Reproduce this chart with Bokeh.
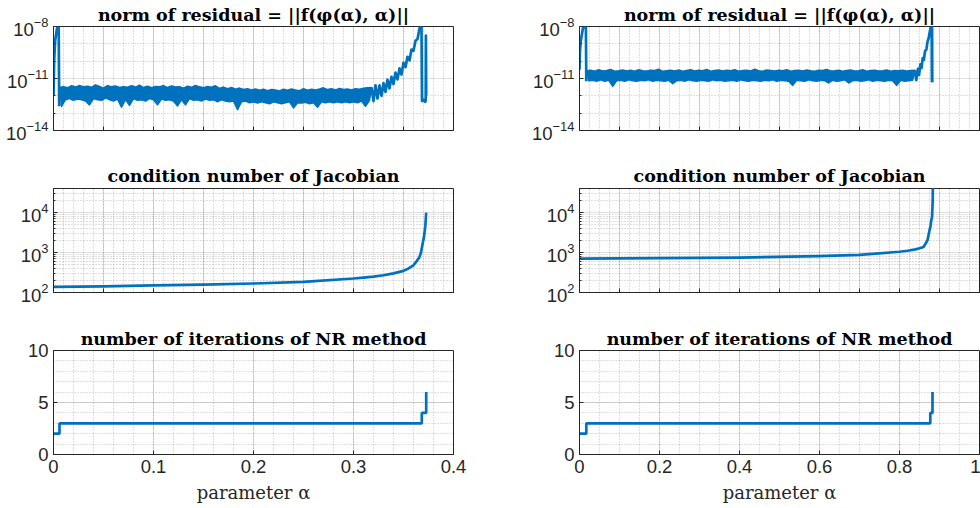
from bokeh.plotting import figure
from bokeh.layouts import column, row
from bokeh.models import Range1d, FixedTicker, SingleIntervalTicker, CustomJSTickFormatter
from bokeh.embed import file_html
from bokeh.resources import INLINE

# ---------------- data ----------------
# left column (alpha in [0, 0.4])
res_left_head_x = [0.0, 0.0007, 0.0017, 0.0034, 0.0044, 0.0052, 0.0057]
res_left_head_y = [1.0e-12, 1.2e-10, 1.6e-9, 7.4e-9, 1.0e-8, 9.0e-9, 2.5e-13]
# noisy band: upper envelope (x0=0.006, step 0.004) and lower envelope (x0=0.008, step 0.004)
res_left_upper = [
    3.0e-12, 3.4e-12, 2.9e-12, 3.8e-12, 3.2e-12, 4.0e-12, 3.3e-12, 3.6e-12, 3.1e-12, 4.3e-12,
    3.5e-12, 2.8e-12, 3.9e-12, 3.3e-12, 3.7e-12, 3.0e-12, 3.4e-12, 3.1e-12, 3.8e-12, 3.2e-12,
    4.1e-12, 3.0e-12, 3.6e-12, 2.9e-12, 3.5e-12, 3.3e-12, 3.9e-12, 3.0e-12, 3.7e-12, 3.2e-12,
    3.4e-12, 2.8e-12, 3.6e-12, 3.1e-12, 4.0e-12, 3.3e-12, 2.9e-12, 3.5e-12, 3.1e-12, 3.8e-12,
    2.7e-12, 3.2e-12, 2.6e-12, 3.0e-12, 2.4e-12, 2.8e-12, 2.3e-12, 2.6e-12, 2.2e-12, 2.5e-12,
    2.1e-12, 2.4e-12, 2.0e-12, 2.3e-12, 2.2e-12, 1.9e-12, 2.4e-12, 2.1e-12, 2.5e-12, 2.2e-12,
    2.0e-12, 2.6e-12, 2.1e-12, 2.4e-12, 2.2e-12, 2.5e-12, 2.9e-12, 2.3e-12, 2.6e-12, 2.2e-12,
    2.7e-12, 2.3e-12, 2.5e-12, 2.2e-12, 2.6e-12, 2.4e-12, 2.7e-12, 2.9e-12, 3.0e-12,
]
res_left_lower = [
    0.25e-12, 0.6e-12, 0.7e-12, 0.55e-12, 0.65e-12, 0.6e-12, 0.5e-12, 0.3e-12, 0.7e-12, 0.6e-12,
    0.55e-12, 0.75e-12, 0.6e-12, 0.5e-12, 0.65e-12, 0.22e-12, 0.6e-12, 0.28e-12, 0.7e-12, 0.55e-12,
    0.6e-12, 0.5e-12, 0.7e-12, 0.6e-12, 0.3e-12, 0.65e-12, 0.55e-12, 0.6e-12, 0.5e-12, 0.26e-12,
    0.6e-12, 0.3e-12, 0.7e-12, 0.55e-12, 0.6e-12, 0.5e-12, 0.65e-12, 0.55e-12, 0.6e-12, 0.45e-12,
    0.6e-12, 0.5e-12, 0.45e-12, 0.5e-12, 0.16e-12, 0.45e-12, 0.5e-12, 0.4e-12, 0.45e-12, 0.38e-12,
    0.45e-12, 0.4e-12, 0.35e-12, 0.45e-12, 0.4e-12, 0.35e-12, 0.4e-12, 0.45e-12, 0.2e-12, 0.4e-12,
    0.38e-12, 0.42e-12, 0.35e-12, 0.4e-12, 0.22e-12, 0.45e-12, 0.4e-12, 0.45e-12, 0.4e-12, 0.45e-12,
    0.4e-12, 0.45e-12, 0.4e-12, 0.45e-12, 0.4e-12, 0.5e-12, 0.25e-12, 0.55e-12,
]
res_left_band_start, res_left_band_step = 0.006, 0.004
res_left_tail_x = [0.318, 0.320, 0.322, 0.324, 0.326, 0.328, 0.330, 0.332, 0.334, 0.336, 0.338,
                   0.340, 0.342, 0.344, 0.346, 0.348, 0.350, 0.352, 0.354, 0.356, 0.358,
                   0.360, 0.362, 0.364, 0.366, 0.367, 0.368, 0.3685, 0.3700, 0.3715, 0.3722,
                   0.3724, 0.3727]
res_left_tail_y = [3.0e-12, 5e-13, 4e-12, 7e-13, 4e-12, 1.0e-12, 5.4e-12, 1.7e-12, 8.5e-12, 2.7e-12, 1.26e-11,
                   4.8e-12, 2.2e-11, 8.9e-12, 3.8e-11, 1.7e-11, 8e-11, 4.5e-11, 1.8e-10, 1.1e-10, 4.7e-10,
                   4e-10, 1.5e-9, 1.9e-9, 7.9e-9, 1.0e-8, 1.1e-8, 5e-13, 6e-13, 4.5e-13, 5e-13,
                   3e-9, 1e-12]

cond_left_x = [0.0, 0.05, 0.1, 0.15, 0.2, 0.25, 0.3, 0.31, 0.32, 0.33, 0.34, 0.35, 0.355, 0.36,
               0.363, 0.366, 0.3675, 0.3685, 0.3705, 0.3718, 0.3727]
cond_left_y = [138, 142, 150, 158, 168, 185, 224, 236, 250, 270, 300, 347, 400, 480,
               600, 776, 1000, 1380, 2500, 4500, 1.0e4]

iter_left_x = [0.0, 0.006, 0.3683, 0.3727]
iter_left_y = [2, 3, 4, 6]

# right column (alpha in [0, 1])
res_right_head_x = [0.0, 0.001, 0.0035, 0.0085, 0.0135, 0.016, 0.017]
res_right_head_y = [3.2e-11, 3.5e-10, 1.6e-9, 8e-9, 1.0e-8, 9e-9, 7e-12]
# noisy band: upper envelope (x0=0.018, step 0.01) and lower envelope (x0=0.023, step 0.01)
res_right_upper = [
    2.8e-11,
    3.0e-11, 2.6e-11, 3.2e-11, 2.7e-11, 2.9e-11, 3.3e-11, 2.6e-11, 2.8e-11, 3.1e-11, 2.7e-11,
    3.0e-11, 2.6e-11, 3.2e-11, 2.8e-11, 2.7e-11, 3.0e-11, 2.9e-11, 3.4e-11, 2.6e-11, 2.8e-11,
    3.0e-11, 2.7e-11, 3.1e-11, 2.6e-11, 2.9e-11, 3.2e-11, 2.7e-11, 3.0e-11, 2.8e-11, 3.3e-11,
    2.6e-11, 2.9e-11, 3.1e-11, 2.7e-11, 3.0e-11, 2.8e-11, 3.2e-11, 2.6e-11, 2.9e-11, 3.0e-11,
    2.7e-11, 3.4e-11, 2.8e-11, 2.6e-11, 3.1e-11, 2.9e-11, 2.7e-11, 3.0e-11, 2.8e-11, 3.2e-11,
    2.6e-11, 2.9e-11, 3.0e-11, 2.7e-11, 3.1e-11, 2.8e-11, 2.6e-11, 3.0e-11, 2.9e-11, 3.3e-11,
    2.7e-11, 2.8e-11, 3.0e-11, 2.6e-11, 2.9e-11, 3.1e-11, 2.7e-11, 2.8e-11, 3.2e-11, 2.6e-11,
    2.9e-11, 3.0e-11, 2.7e-11, 2.8e-11, 3.1e-11, 2.6e-11, 2.9e-11, 2.8e-11, 3.0e-11, 2.7e-11,
    2.9e-11, 3.0e-11,
]
res_right_lower = [
    0.75e-11, 0.8e-11, 0.7e-11, 0.85e-11, 0.7e-11, 0.8e-11, 0.35e-11, 0.75e-11, 0.8e-11, 0.7e-11,
    0.85e-11, 0.75e-11, 0.7e-11, 0.8e-11, 0.75e-11, 0.85e-11, 0.7e-11, 0.8e-11, 0.75e-11, 0.7e-11,
    0.8e-11, 0.5e-11, 0.75e-11, 0.8e-11, 0.7e-11, 0.85e-11, 0.75e-11, 0.7e-11, 0.8e-11, 0.75e-11,
    0.7e-11, 0.85e-11, 0.75e-11, 0.8e-11, 0.7e-11, 0.75e-11, 0.8e-11, 0.7e-11, 0.85e-11, 0.75e-11,
    0.7e-11, 0.8e-11, 0.75e-11, 0.7e-11, 0.8e-11, 0.75e-11, 0.85e-11, 0.7e-11, 0.8e-11, 0.75e-11,
    0.7e-11, 0.4e-11, 0.8e-11, 0.75e-11, 0.7e-11, 0.85e-11, 0.75e-11, 0.7e-11, 0.8e-11, 0.75e-11,
    0.55e-11, 0.8e-11, 0.7e-11, 0.75e-11, 0.85e-11, 0.55e-11, 0.75e-11, 0.8e-11, 0.7e-11, 0.75e-11,
    0.85e-11, 0.7e-11, 0.8e-11, 0.75e-11, 0.7e-11, 0.8e-11, 0.75e-11, 0.4e-11, 0.8e-11, 0.7e-11,
    0.75e-11, 0.8e-11,
]
res_right_band_start, res_right_band_step = 0.018, 0.01
res_right_tail_x = [0.838, 0.842, 0.846, 0.849, 0.852, 0.855, 0.858, 0.861, 0.864, 0.867, 0.870,
                    0.873, 0.876, 0.8785, 0.8805, 0.881, 0.8815, 0.882]
res_right_tail_y = [3.0e-11, 8e-12, 3.6e-11, 1.6e-11, 6.5e-11, 4e-11, 1.5e-10, 1.2e-10, 4e-10, 4.5e-10, 1.3e-9,
                    2.2e-9, 5.5e-9, 1.0e-8, 1.2e-8, 7e-12, 8e-9, 6e-12]

cond_right_x = [0.0, 0.2, 0.4, 0.6, 0.7, 0.8, 0.82, 0.84, 0.85, 0.86, 0.865, 0.87, 0.8725,
                0.875, 0.8775, 0.879, 0.8815, 0.883, 0.8835]
cond_right_y = [708, 728, 750, 810, 870, 1045, 1110, 1200, 1280, 1380, 1650, 2040, 2700,
                3600, 4500, 6000, 8000, 2e4, 5e4]

iter_right_x = [0.0, 0.017, 0.877, 0.8825]
iter_right_y = [2, 3, 4, 6]

titles = ["norm of residual = ||f(\u03c6(\u03b1), \u03b1)||",
          "condition number of Jacobian",
          "number of iterations of NR method"]
x_label = "parameter \u03b1"

# ---------------- style ----------------
BLUE = "#0072BD"
AX = "#262626"
TICK_FONT = "Liberation Sans"
SERIF = "DejaVu Serif"
LW = 2.7


def band_polygon(start, step, upper, lower):
    ux = [start + step * i for i in range(len(upper))]
    lx = [start + step / 2 + step * i for i in range(len(lower))]
    return ux + lx[::-1], upper + lower[::-1]


def make_fig(col, rowi, xmax, ytype, yrange, xticker, yticker, title, show_xlabels):
    borders_lr = [(53, 37), (89, 1)][col]
    borders_tb = [(26, 24), (34, 28), (30, 54)][rowi]
    p = figure(frame_width=400, frame_height=104,
               x_range=Range1d(0, xmax), y_range=Range1d(*yrange),
               y_axis_type=ytype, output_backend="svg", toolbar_location=None,
               min_border_left=borders_lr[0], min_border_right=borders_lr[1],
               min_border_top=borders_tb[0], min_border_bottom=borders_tb[1],
               background_fill_color="white", border_fill_color="white")
    p.title.text = title
    p.title.text_font = SERIF
    p.title.text_font_style = "bold"
    p.title.text_font_size = "17.5px"
    p.title.align = "center"
    p.title.text_color = "black"
    p.title.standoff = [3.5, 5, 2.5][rowi]
    p.xaxis.ticker = xticker
    p.xgrid.ticker = xticker
    p.yaxis.ticker = yticker
    p.ygrid.ticker = yticker
    for ax in list(p.xaxis) + list(p.yaxis):
        ax.axis_line_color = AX
        ax.major_tick_line_color = AX
        ax.minor_tick_line_color = AX
        ax.major_tick_in = 4
        ax.major_tick_out = 0
        ax.minor_tick_in = 0
        ax.minor_tick_out = 0
        ax.major_label_text_font = TICK_FONT
        ax.major_label_text_font_size = "18.5px"
        ax.major_label_text_color = AX
        ax.major_label_standoff = 5
    if ytype == "log":
        p.yaxis.minor_tick_in = 2
    if not show_xlabels:
        p.xaxis.formatter = CustomJSTickFormatter(code="return ''")
        p.xaxis.major_label_standoff = 0
        p.xaxis.major_label_text_font_size = "8px"
    else:
        p.xaxis.axis_label = x_label
        p.xaxis.axis_label_text_font = SERIF
        p.xaxis.axis_label_text_font_style = "normal"
        p.xaxis.axis_label_text_font_size = "18px"
        p.xaxis.axis_label_text_color = AX
        p.xaxis.axis_label_standoff = 6
    p.outline_line_color = AX
    p.outline_line_width = 1
    for g in (p.xgrid, p.ygrid):
        g.grid_line_color = AX
        g.grid_line_alpha = 0.15
        g.minor_grid_line_color = AX
        g.minor_grid_line_alpha = 0.3
        g.minor_grid_line_dash = "1 2"
    return p


res_ticks = FixedTicker(ticks=[1e-14, 1e-11, 1e-8], minor_ticks=[1e-13, 1e-12, 1e-10, 1e-9])
cond_minor = [m * 10 ** e for e in (2, 3) for m in range(2, 10)] + [2e4, 3e4, 4e4]
cond_ticks = FixedTicker(ticks=[1e2, 1e3, 1e4], minor_ticks=cond_minor)

figs = []
for col, xmax in enumerate([0.4, 1.0]):
    if col == 0:
        xt_top = SingleIntervalTicker(interval=0.05, num_minor_ticks=5)
        xt_mid = SingleIntervalTicker(interval=0.05, num_minor_ticks=5)
        xt_bot = SingleIntervalTicker(interval=0.1, num_minor_ticks=5)
        hx, hy = res_left_head_x, res_left_head_y
        bx, by = band_polygon(res_left_band_start, res_left_band_step, res_left_upper, res_left_lower)
        tx, ty = res_left_tail_x, res_left_tail_y
        cx, cy, ix, iy = cond_left_x, cond_left_y, iter_left_x, iter_left_y
    else:
        xt_top = SingleIntervalTicker(interval=0.1, num_minor_ticks=4)
        xt_mid = SingleIntervalTicker(interval=0.1, num_minor_ticks=4)
        xt_bot = SingleIntervalTicker(interval=0.2, num_minor_ticks=4)
        hx, hy = res_right_head_x, res_right_head_y
        bx, by = band_polygon(res_right_band_start, res_right_band_step, res_right_upper, res_right_lower)
        tx, ty = res_right_tail_x, res_right_tail_y
        cx, cy, ix, iy = cond_right_x, cond_right_y, iter_right_x, iter_right_y

    p1 = make_fig(col, 0, xmax, "log", (1e-14, 1e-8), xt_top, res_ticks, titles[0], False)
    p1.patch(bx, by, fill_color=BLUE, fill_alpha=1.0, line_color=BLUE, line_width=1.5, line_join="round")
    p1.line(hx, hy, line_color=BLUE, line_width=LW, line_join="round")
    p1.line(tx, ty, line_color=BLUE, line_width=LW, line_join="round")
    p2 = make_fig(col, 1, xmax, "log", (1e2, 4e4), xt_mid, cond_ticks, titles[1], False)
    p2.line(cx, cy, line_color=BLUE, line_width=LW, line_join="round")
    p3 = make_fig(col, 2, xmax, "linear", (0, 10),
                  xt_bot, SingleIntervalTicker(interval=5, num_minor_ticks=5), titles[2], True)
    p3.step(ix, iy, mode="after", line_color=BLUE, line_width=LW)
    figs.append((p1, p2, p3))

layout = column(row(figs[0][0], figs[1][0]), row(figs[0][1], figs[1][1]), row(figs[0][2], figs[1][2]))

open("out.html", "w").write(file_html(layout, INLINE))
